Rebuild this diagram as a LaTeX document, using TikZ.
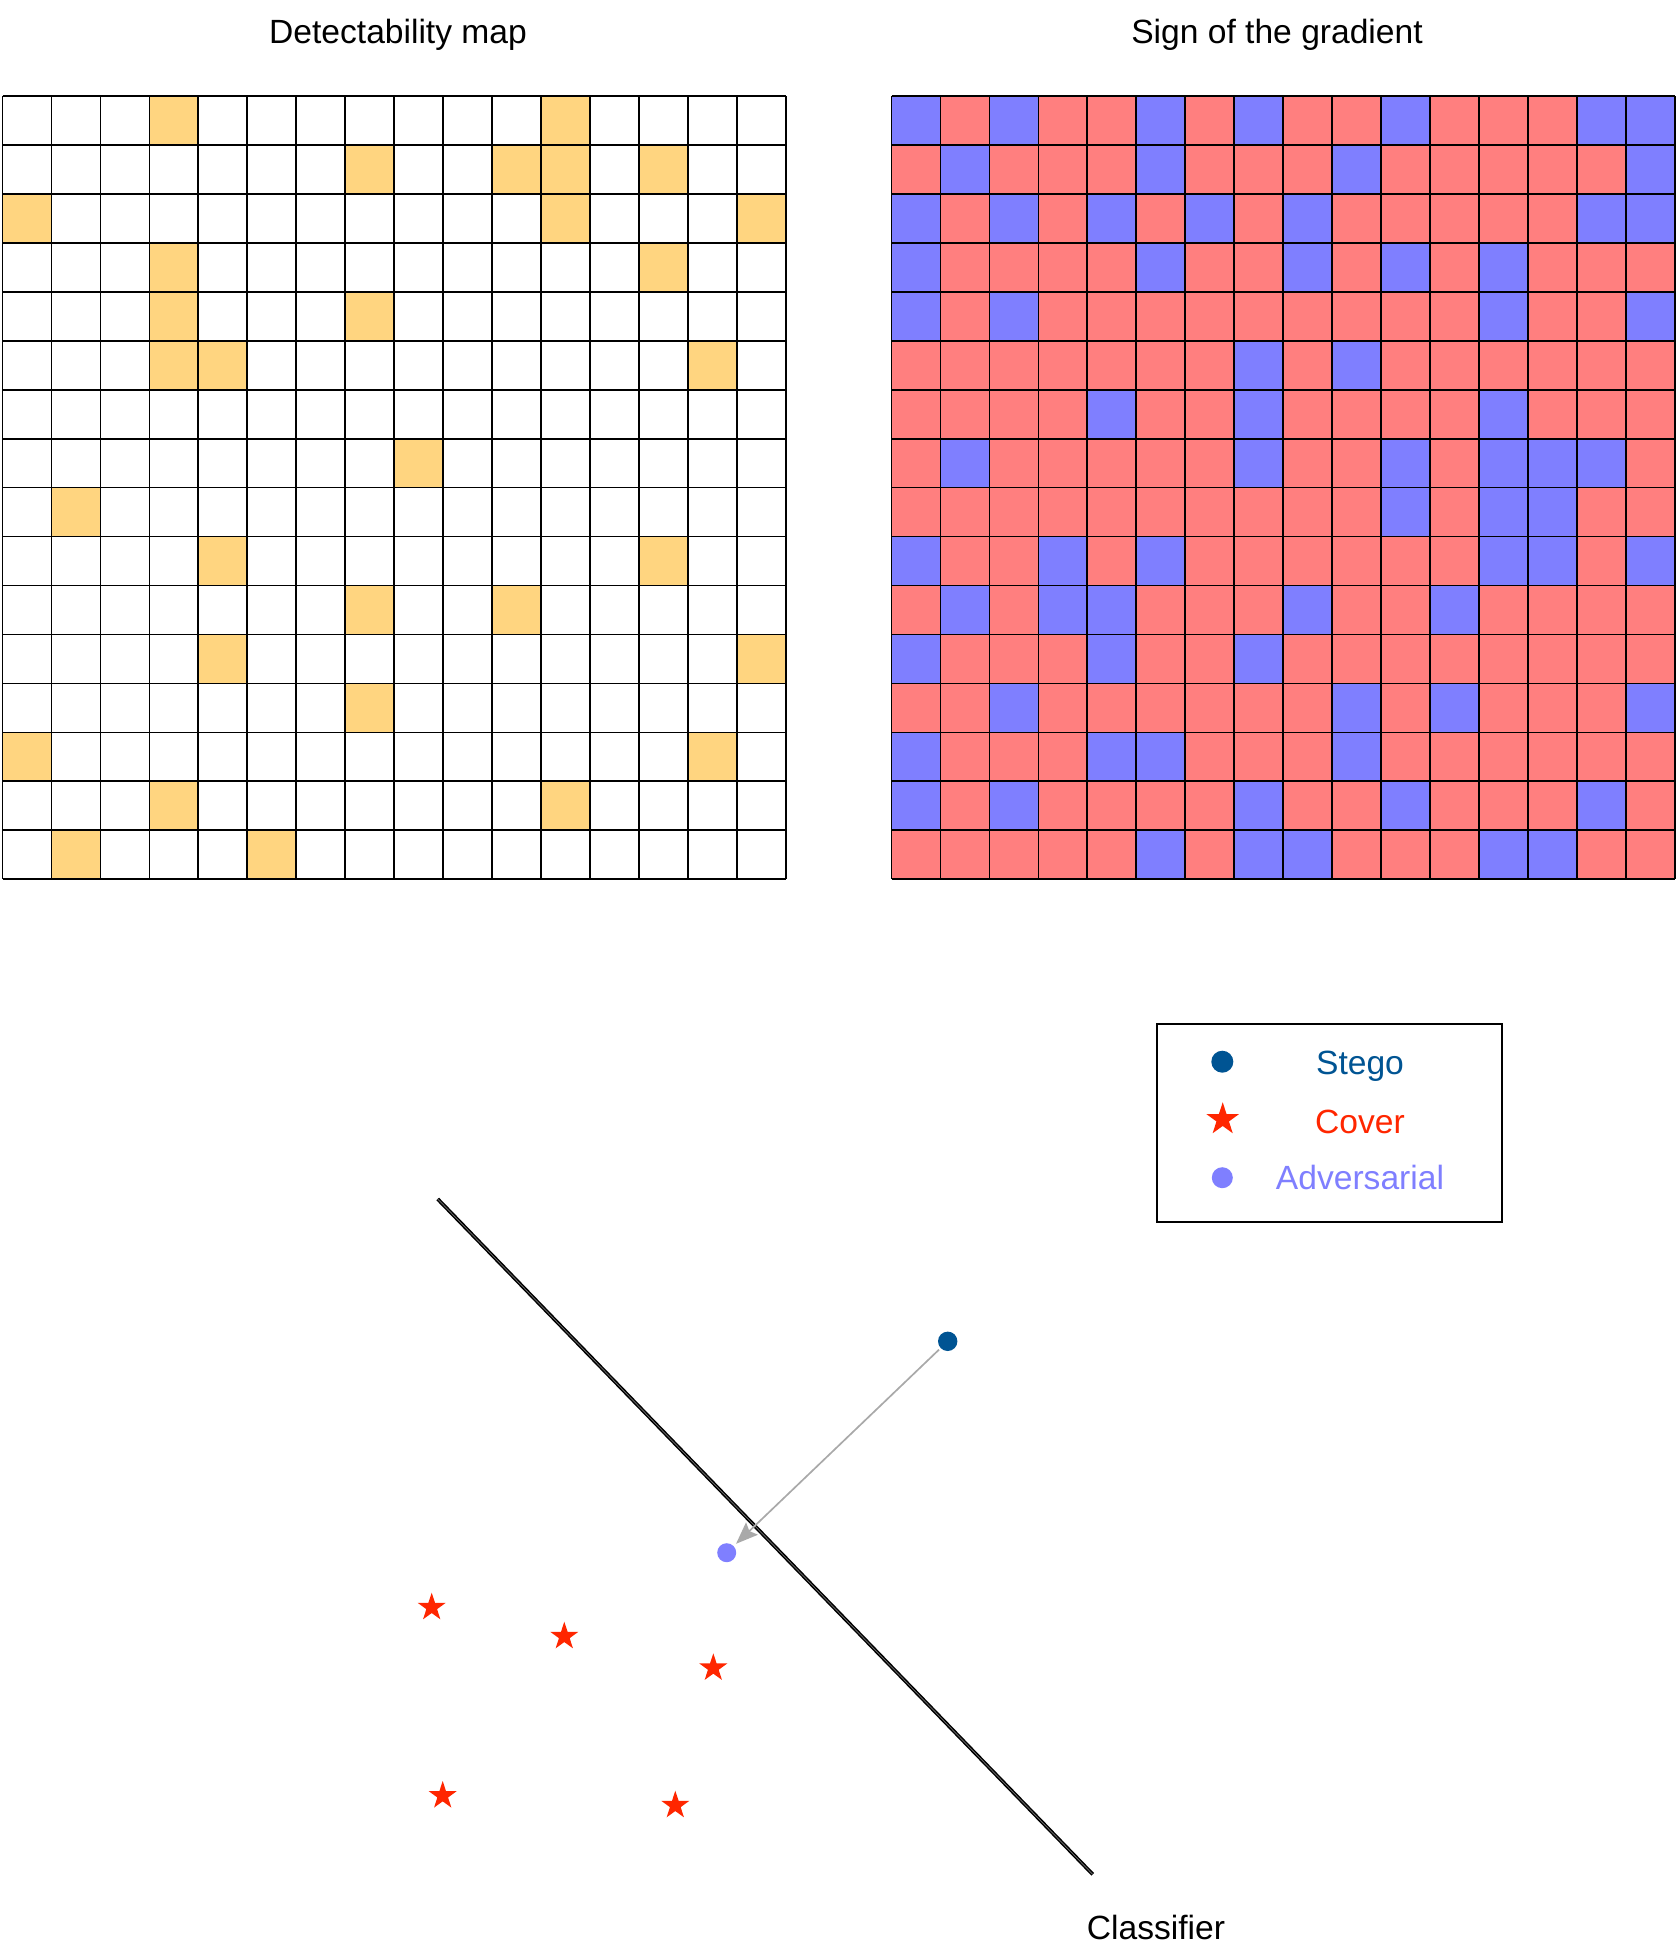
\documentclass[tikz,border=0pt]{standalone}
\usepackage{fontspec}
\setmainfont{Liberation Sans}
\usetikzlibrary{shapes.geometric,arrows.meta}
\definecolor{yel}{RGB}{255,213,128}
\definecolor{gred}{RGB}{255,127,127}
\definecolor{gblue}{RGB}{127,127,255}
\definecolor{stegoc}{RGB}{0,84,147}
\definecolor{coverc}{RGB}{255,38,0}
\definecolor{advc}{RGB}{127,127,255}
\definecolor{arrc}{RGB}{169,169,169}
\begin{document}
\begin{tikzpicture}[x=0.5pt,y=-0.5pt,
  gridline/.style={black,line width=0.85pt},
  lbl/.style={font=\fontsize{16.8}{20}\selectfont,inner sep=0pt,anchor=base},
  stegodot/.style={circle,fill=stegoc,draw=none,inner sep=0pt,minimum size=#1},
  advdot/.style={circle,fill=advc,draw=none,inner sep=0pt,minimum size=#1},
  coverstar/.style={star,star points=5,star point ratio=2.6,fill=coverc,draw=none,inner sep=0pt,minimum size=#1},
  legendbox/.style={draw=black,line width=1pt,fill=none},
  classline/.style={line width=0.75pt,double=black!55,double distance=0.35pt},
  advarrow/.style={arrc,line width=0.85pt,-{Stealth[length=11pt,width=8.5pt,inset=1.8pt]}}
]
\useasboundingbox (0,0) rectangle (1677,1954);
\def\cs{48.95}
% ---------- Detectability map ----------
\foreach \r/\cols in {0/{3,11},1/{7,10,11,13},2/{0,11,15},3/{3,13},4/{3,7},5/{3,4,14},7/{8},8/{1},9/{4,13},10/{7,10},11/{4,15},12/{7},13/{0,14},14/{3,11},15/{1,5}}{
  \foreach \c in \cols {
    \fill[yel] ({2.5+\c*\cs},{96+\r*\cs}) rectangle ++(\cs,\cs);
  }
}
\foreach \i in {0,...,16}{
  \draw[gridline] ({2.5+\i*\cs},96) -- ({2.5+\i*\cs},{96+16*\cs});
  \draw[gridline] (2.5,{96+\i*\cs}) -- ({2.5+16*\cs},{96+\i*\cs});
}
\node[lbl] (t1) at (398,43.5) {Detectability map};
% ---------- Sign of the gradient ----------
\fill[gred] (891.5,96) rectangle ({891.5+16*\cs},{96+16*\cs});
\foreach \r/\cols in {0/{0,2,5,7,10,14,15},1/{1,5,9,15},2/{0,2,4,6,8,14,15},3/{0,5,8,10,12},4/{0,2,12,15},5/{7,9},6/{4,7,12},7/{1,7,10,12,13,14},8/{10,12,13},9/{0,3,5,12,13,15},10/{1,3,4,8,11},11/{0,4,7},12/{2,9,11,15},13/{0,4,5,9},14/{0,2,7,10,14},15/{5,7,8,12,13}}{
  \foreach \c in \cols {
    \fill[gblue] ({891.5+\c*\cs},{96+\r*\cs}) rectangle ++(\cs,\cs);
  }
}
\foreach \i in {0,...,16}{
  \draw[gridline] ({891.5+\i*\cs},96) -- ({891.5+\i*\cs},{96+16*\cs});
  \draw[gridline] (891.5,{96+\i*\cs}) -- ({891.5+16*\cs},{96+\i*\cs});
}
\node[lbl] (t2) at (1277,43.5) {Sign of the gradient};
% ---------- Legend ----------
\draw[legendbox] (1157,1024) rectangle (1502,1222);
\node[stegodot=11pt] (ls) at (1222.3,1061.7) {};
\node[coverstar=17.1pt] (lc) at (1222.7,1119.4) {};
\node[advdot=10.5pt] (la) at (1222.3,1177.7) {};
\node[lbl,text=stegoc] (lst) at (1360,1074) {Stego};
\node[lbl,text=coverc] (lct) at (1360,1133) {Cover};
\node[lbl,text=advc] (lat) at (1360,1189.5) {Adversarial};
% ---------- Plot ----------
\coordinate (c1) at (437.7,1199);
\coordinate (c2) at (1092.7,1874.3);
\draw[classline] (c1) -- (c2);
\node[lbl] (clab) at (1156,1939) {Classifier};
\node[stegodot=9.7pt] (st) at (947.7,1341.3) {};
\node[advdot=9.5pt] (ad) at (726.7,1552.7) {};
\draw[advarrow,shorten <=1pt,shorten >=1.5pt] (st) -- (ad);
\node[coverstar=14.7pt] (s1) at (431.7,1607.4) {};
\node[coverstar=14.7pt] (s2) at (564.3,1636.4) {};
\node[coverstar=14.7pt] (s3) at (713.3,1668) {};
\node[coverstar=14.7pt] (s4) at (442.7,1795.7) {};
\node[coverstar=14.7pt] (s5) at (675.3,1805.4) {};
\end{tikzpicture}
\end{document}
